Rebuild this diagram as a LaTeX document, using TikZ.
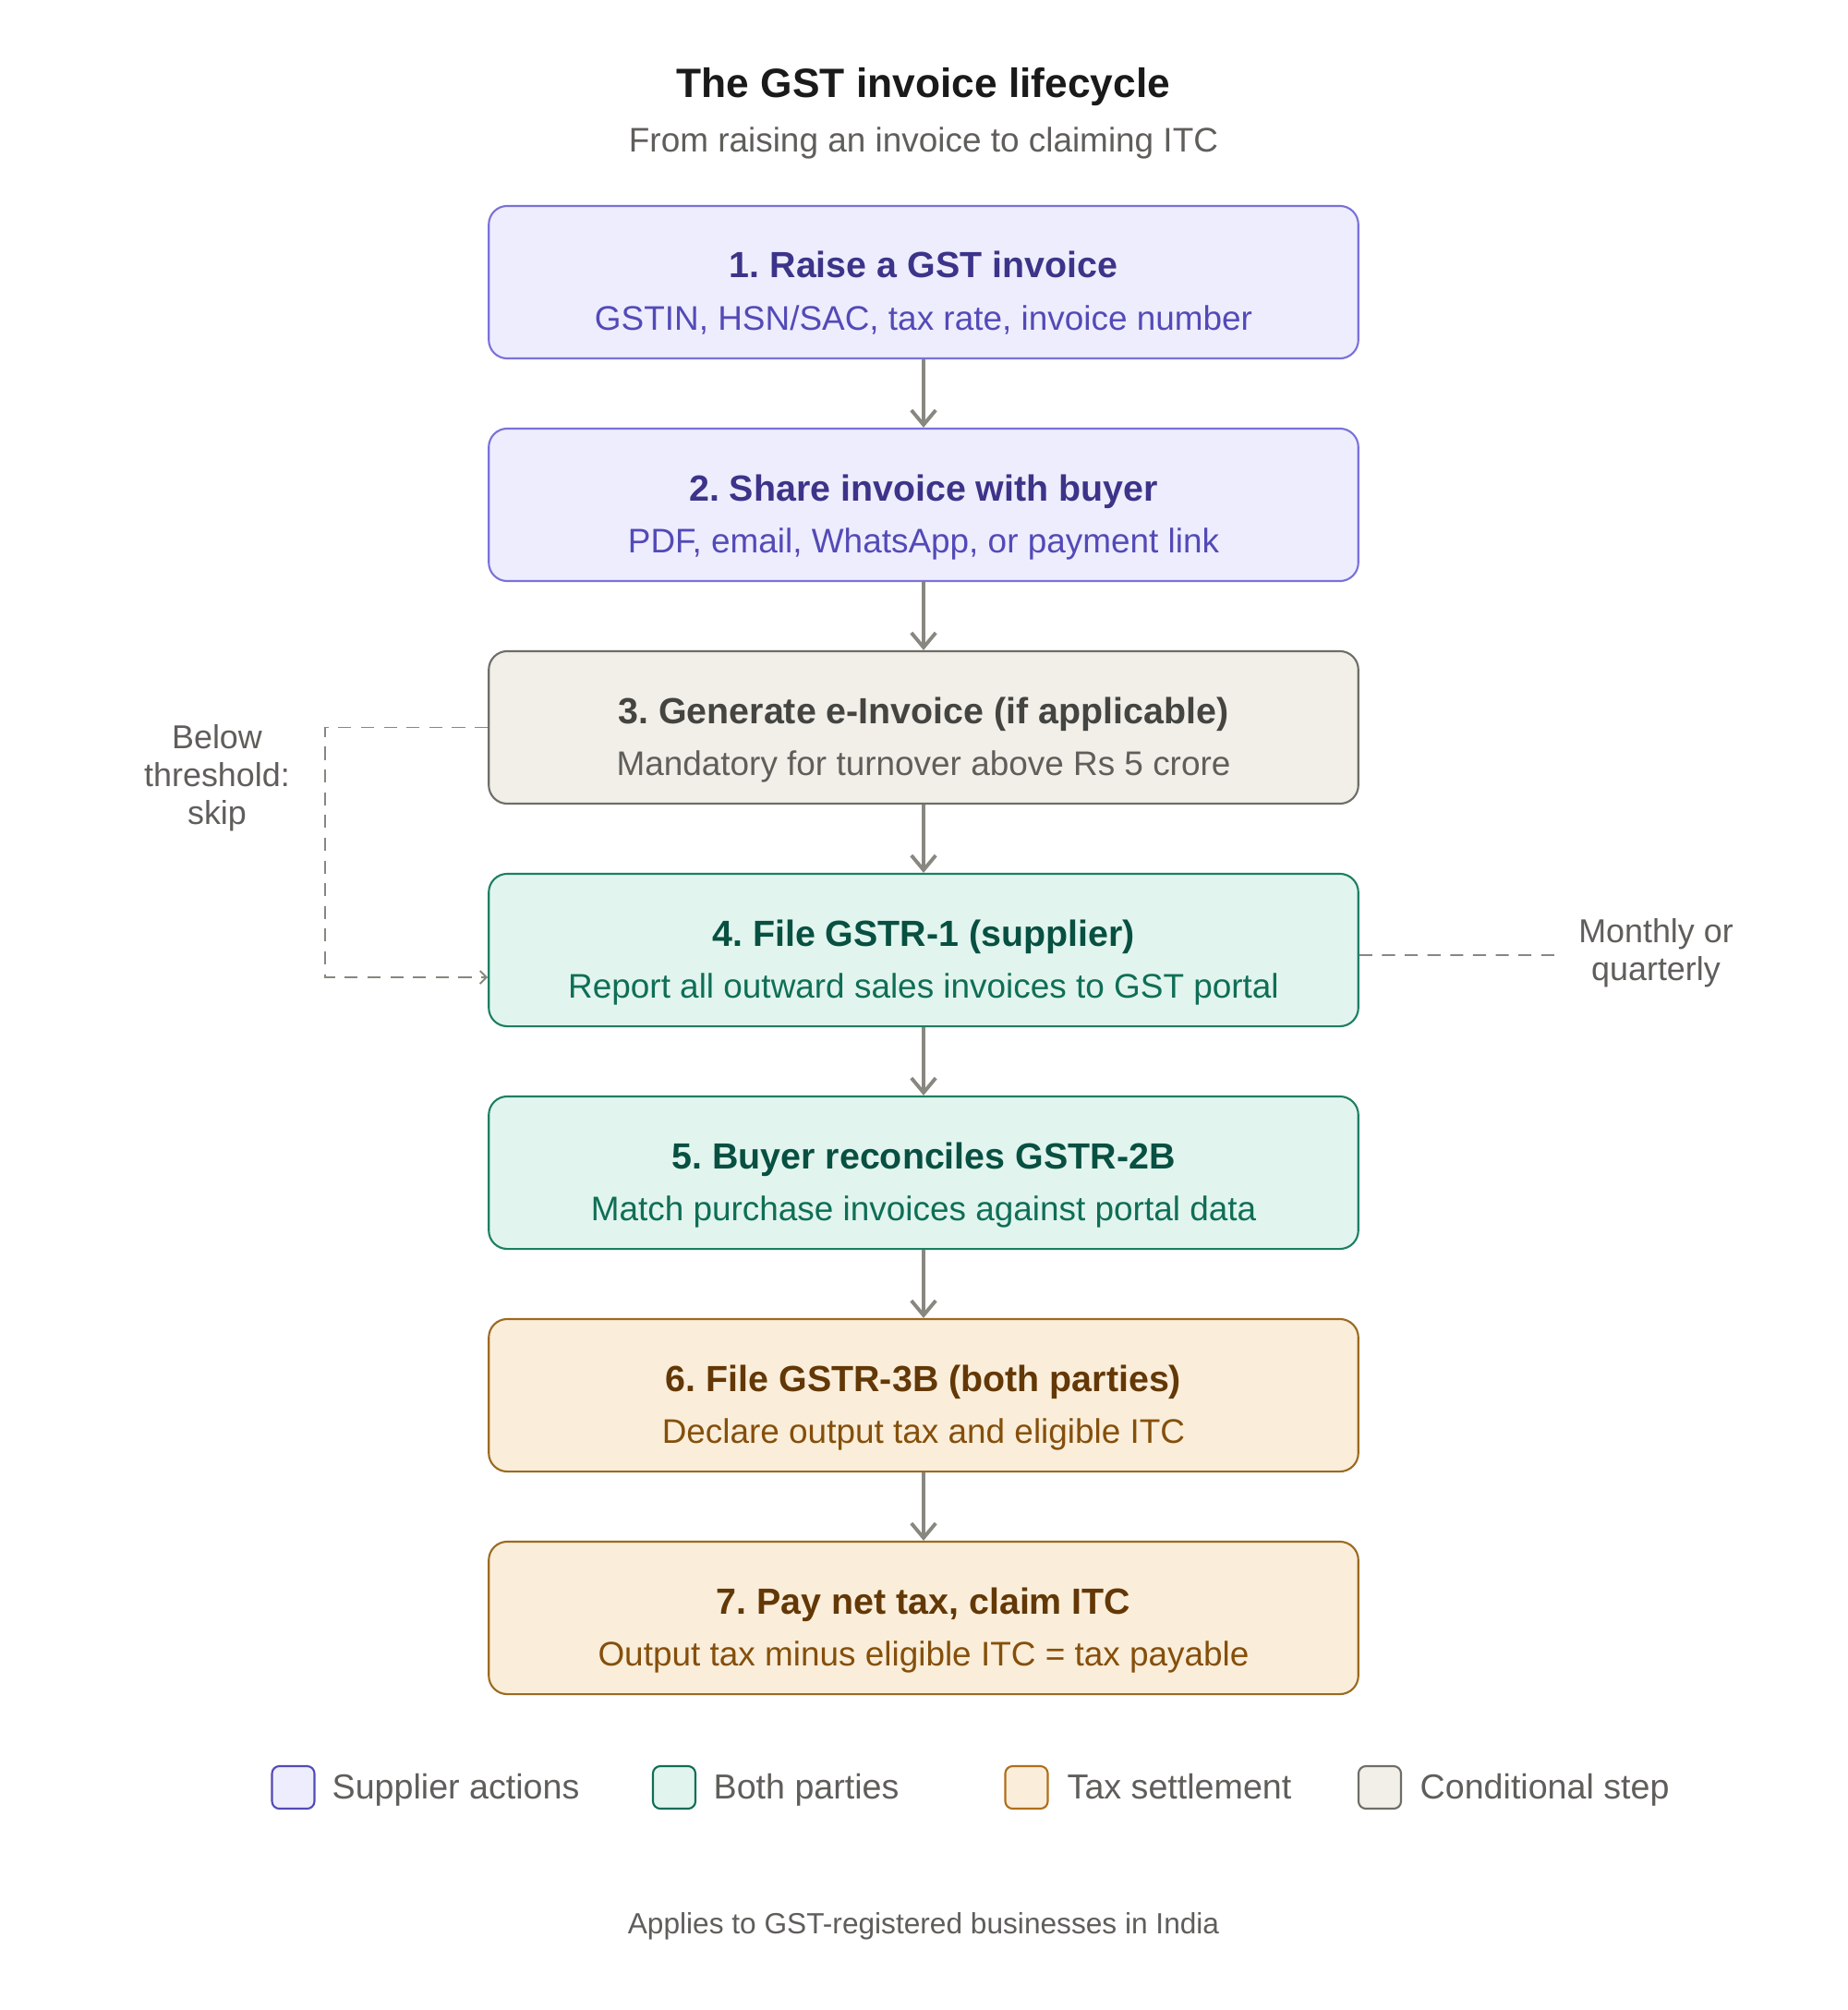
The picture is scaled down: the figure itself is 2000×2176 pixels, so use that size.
\documentclass[tikz,border=0pt]{standalone}
\usepackage{fontspec}
\setmainfont{Liberation Sans}
\usetikzlibrary{
   arrows.meta,
   positioning
}
\frenchspacing

\definecolor{supFill}{HTML}{EEEDFE}
\definecolor{supLine}{HTML}{7A72D8}
\definecolor{supHead}{HTML}{3C3489}
\definecolor{supText}{HTML}{534AB7}
\definecolor{bothFill}{HTML}{E1F5EE}
\definecolor{bothLine}{HTML}{1D7F62}
\definecolor{bothHead}{HTML}{085041}
\definecolor{bothText}{HTML}{0F6E56}
\definecolor{taxFill}{HTML}{FAEEDA}
\definecolor{taxLine}{HTML}{9C6A1F}
\definecolor{taxHead}{HTML}{633806}
\definecolor{taxText}{HTML}{854F0B}
\definecolor{condFill}{HTML}{F1EFE8}
\definecolor{condLine}{HTML}{6E6D68}
\definecolor{condHead}{HTML}{444441}
\definecolor{condText}{HTML}{5F5E5A}
\definecolor{arrowGray}{HTML}{888780}
\definecolor{noteGray}{HTML}{5F5E5A}
\definecolor{titleBlack}{HTML}{1A1A1A}

\begin{document}
\begin{tikzpicture}[
    x=0.01cm, y=-0.01cm,
    every node/.style={inner sep=0pt},
    box/.style={rectangle, draw, rounded corners=0.2cm, line width=0.6pt, minimum width=9.41cm, minimum height=1.65cm},
    stephead/.style={font=\fontsize{11.2}{13}\selectfont\bfseries, anchor=base},
    stepsub/.style={font=\fontsize{10.5}{12}\selectfont, anchor=base},
    flow/.style={-{Straight Barb[length=4.5pt, width=7.5pt]}, line width=1.1pt, draw=arrowGray},
    dashline/.style={draw=arrowGray, line width=0.55pt, dash pattern=on 4pt off 3pt},
    note/.style={font=\fontsize{10.2}{11.7}\selectfont, text=noteGray, align=center},
    legbox/.style={rectangle, draw, rounded corners=0.08cm, line width=0.6pt, minimum size=0.46cm},
    legtext/.style={font=\fontsize{10.7}{12}\selectfont, text=noteGray, anchor=base west}
]
\path[use as bounding box, fill=white] (0,0) rectangle (2000,2176);

% heading
\node[font=\fontsize{12.6}{15}\selectfont\bfseries, text=titleBlack, anchor=base] (title) at (1000,106) {The GST invoice lifecycle};
\node[font=\fontsize{10.5}{12}\selectfont, text=noteGray, anchor=base] (subtitle) at (1000,165) {From raising an invoice to claiming ITC};

% steps
\node[box, fill=supFill, draw=supLine] (box1) at (1000,305.5) {};
\node[stephead, text=supHead] (head1) at (1000,301) {1. Raise a GST invoice};
\node[stepsub, text=supText] (sub1) at (1000,357) {GSTIN, HSN/SAC, tax rate, invoice number};

\node[box, fill=supFill, draw=supLine] (box2) at (1000,546.5) {};
\node[stephead, text=supHead] (head2) at (1000,542) {2. Share invoice with buyer};
\node[stepsub, text=supText] (sub2) at (1000,598) {PDF, email, WhatsApp, or payment link};

\node[box, fill=condFill, draw=condLine] (box3) at (1000,787.5) {};
\node[stephead, text=condHead] (head3) at (1000,783) {3. Generate e-Invoice (if applicable)};
\node[stepsub, text=condText] (sub3) at (1000,839) {Mandatory for turnover above Rs 5 crore};

\node[box, fill=bothFill, draw=bothLine] (box4) at (1000,1028.5) {};
\node[stephead, text=bothHead] (head4) at (1000,1024) {4. File GSTR-1 (supplier)};
\node[stepsub, text=bothText] (sub4) at (1000,1080) {Report all outward sales invoices to GST portal};

\node[box, fill=bothFill, draw=bothLine] (box5) at (1000,1269.5) {};
\node[stephead, text=bothHead] (head5) at (1000,1265) {5. Buyer reconciles GSTR-2B};
\node[stepsub, text=bothText] (sub5) at (1000,1321) {Match purchase invoices against portal data};

\node[box, fill=taxFill, draw=taxLine] (box6) at (1000,1510.5) {};
\node[stephead, text=taxHead] (head6) at (1000,1506) {6. File GSTR-3B (both parties)};
\node[stepsub, text=taxText] (sub6) at (1000,1562) {Declare output tax and eligible ITC};

\node[box, fill=taxFill, draw=taxLine] (box7) at (1000,1751.5) {};
\node[stephead, text=taxHead] (head7) at (1000,1747) {7. Pay net tax, claim ITC};
\node[stepsub, text=taxText] (sub7) at (1000,1803) {Output tax minus eligible ITC = tax payable};

% main flow
\draw[flow] (box1) -- (box2);
\draw[flow] (box2) -- (box3);
\draw[flow] (box3) -- (box4);
\draw[flow] (box4) -- (box5);
\draw[flow] (box5) -- (box6);
\draw[flow] (box6) -- (box7);

% skip path for small turnover
\node[note] (skipNote) at (235,842) {Below\\threshold:\\skip};
\draw[dashline, -{Straight Barb[length=2pt, width=4pt]}] (box3.west) -- ++(-176,0) |- ([yshift=-0.295cm]box4.west);

% filing frequency
\coordinate (freqEnd) at (1691,1034);
\draw[dashline] ([yshift=-0.055cm]box4.east) -- (freqEnd);
\node[note] (freqNote) at (1793,1032) {Monthly or\\quarterly};

% legend
\node[legbox, fill=supFill, draw=supText] (legSup) at (317.5,1935) {};
\node[legtext] (legSupText) at (359,1947) {Supplier actions};
\node[legbox, fill=bothFill, draw=bothText] (legBoth) at (730,1935) {};
\node[legtext] (legBothText) at (772,1947) {Both parties};
\node[legbox, fill=taxFill, draw=taxLine!80!orange] (legTax) at (1111.5,1935) {};
\node[legtext] (legTaxText) at (1155,1947) {Tax settlement};
\node[legbox, fill=condFill, draw=condLine] (legCond) at (1494,1935) {};
\node[legtext] (legCondText) at (1537,1947) {Conditional step};

% footer
\node[font=\fontsize{9}{11}\selectfont, text=noteGray, anchor=base] (footer) at (1000,2093) {Applies to GST-registered businesses in India};

\end{tikzpicture}
\end{document}
